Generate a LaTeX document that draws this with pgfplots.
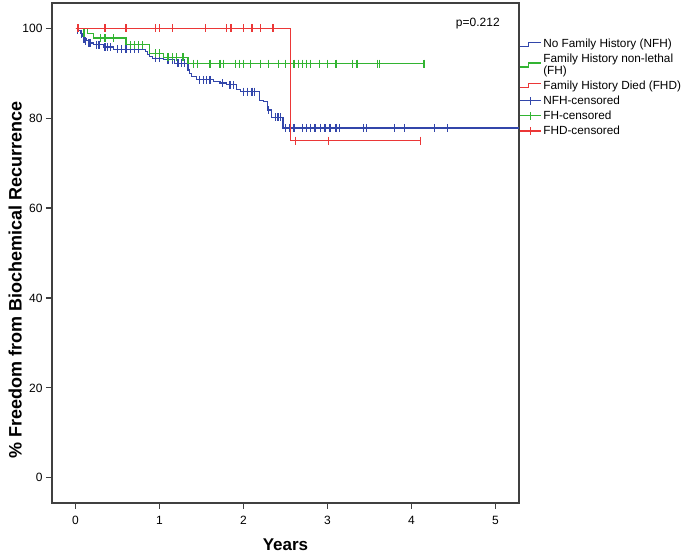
\documentclass[border=0pt]{standalone}
\usepackage{pgfplots}
\pgfplotsset{compat=1.18}
\usepackage{fontspec}
\setmainfont{Liberation Sans}
\definecolor{kmblue}{RGB}{50,70,170}
\definecolor{kmgreen}{RGB}{50,180,50}
\definecolor{kmred}{RGB}{235,55,55}
\begin{document}
\begin{tikzpicture}
\begin{axis}[
  scale only axis, width=467pt, height=500pt,
  xmin=-0.28, xmax=5.28, ymin=-5.6, ymax=105.6,
  xtick={0,1,2,3,4,5}, ytick={0,20,40,60,80,100},
  tick align=outside, major tick length=6pt,
  xtick pos=bottom, ytick pos=left,
  axis line style={line width=1.1pt, black!75},
  tick style={line width=1.1pt, black!75},
  /pgf/number format/assume math mode=true,
  ticklabel style={font=\fontsize{12}{14}\selectfont},
  xticklabel style={yshift=-4pt},
  xlabel={\textbf{Years}},
  ylabel={\textbf{\% Freedom from Biochemical Recurrence}},
  xlabel style={font=\fontsize{17}{19}\selectfont, at={(axis description cs:0.5,-0.084)}, anchor=center},
  ylabel style={font=\fontsize{18}{20}\selectfont, at={(axis description cs:-0.079,0.446)}, anchor=center},
  legend style={at={(rel axis cs:1,0.932)}, anchor=north west, draw=none, fill=none,
    font=\fontsize{11.8}{11.5}\selectfont, inner sep=0pt, row sep=1pt,
    cells={anchor=west, align=left, xshift=1pt}},
  legend cell align=left,
  clip=false,
]
% --- survival curves ---
\addplot[const plot, kmblue, line width=1.2pt,
  legend image code/.code={\draw[kmblue,line width=1.1pt] (0pt,-2pt)--(9pt,-2pt)--(9pt,2pt)--(21pt,2pt);}]
 coordinates {
 (0,100) (0.03,99.5) (0.06,98.8) (0.09,98.2) (0.11,97.7) (0.13,97.2) (0.15,96.7)
 (0.21,96.3) (0.33,95.8) (0.45,95.3) (0.83,94.8) (0.86,94.2) (0.88,93.7)
 (0.92,93.3) (1.05,93.0) (1.18,92.2) (1.34,90.7) (1.36,89.9) (1.38,89.2)
 (1.44,88.5) (1.64,88.1) (1.72,87.8) (1.80,87.4) (1.92,86.3) (1.96,85.9)
 (2.19,84.0) (2.24,83.7) (2.29,81.8) (2.33,80.2) (2.47,77.8) (5.28,77.8)};
\addlegendentry{No Family History (NFH)}
\addplot[const plot, kmgreen, line width=1.2pt,
  legend image code/.code={\draw[kmgreen,line width=1.1pt] (0pt,-2pt)--(9pt,-2pt)--(9pt,2pt)--(21pt,2pt);}]
 coordinates {
 (0,100) (0.14,98.9) (0.21,97.8) (0.6,96.3) (0.88,94.4) (1.05,93.5) (1.34,92.1) (4.15,92.1)};
\addlegendentry{Family History non-lethal\\(FH)}
\addplot[const plot, kmred, line width=1.2pt,
  legend image code/.code={\draw[kmred,line width=1.1pt] (0pt,-2pt)--(9pt,-2pt)--(9pt,2pt)--(21pt,2pt);}]
 coordinates {(0,100) (2.56,75) (4.11,75)};
\addlegendentry{Family History Died (FHD)}
% --- censored marks ---
\addplot[only marks, mark=|, mark size=4pt, kmblue, mark options={kmblue, line width=1.2pt},
  legend image code/.code={\draw[kmblue,line width=1.1pt] (0pt,0pt)--(21pt,0pt); \draw[kmblue,line width=1.1pt] (10.5pt,-4pt)--(10.5pt,4pt);}]
 coordinates {
 (0.02,99.5) (0.07,98.8) (0.1,97.7) (0.12,97.2) (0.16,96.7) (0.18,96.7) (0.25,96.3) (0.28,96.3)
 (0.35,95.8) (0.38,95.8) (0.42,95.8) (0.5,95.3) (0.55,95.3) (0.6,95.3) (0.65,95.3) (0.7,95.3) (0.75,95.3)
 (0.95,93.3) (1.0,93.3) (1.1,93.0) (1.15,93.0) (1.22,92.2) (1.26,92.2) (1.3,92.2)
 (1.48,88.5) (1.52,88.5) (1.56,88.5) (1.6,88.5) (1.75,87.8) (1.84,87.4) (1.88,87.4)
 (2.0,85.9) (2.05,85.9) (2.1,85.9) (2.13,85.9) (2.3,81.8) (2.38,80.2) (2.41,80.2) (2.44,80.2)
 (2.5,77.8) (2.55,77.8) (2.6,77.8) (2.7,77.8) (2.75,77.8) (2.8,77.8) (2.85,77.8) (2.92,77.8)
 (2.97,77.8) (3.03,77.8) (3.1,77.8) (3.14,77.8) (3.43,77.8) (3.46,77.8) (3.8,77.8) (3.92,77.8)
 (4.27,77.8) (4.43,77.8)};
\addlegendentry{NFH-censored}
\addplot[only marks, mark=|, mark size=4pt, kmgreen, mark options={kmgreen, line width=1.2pt},
  legend image code/.code={\draw[kmgreen,line width=1.1pt] (0pt,0pt)--(21pt,0pt); \draw[kmgreen,line width=1.1pt] (10.5pt,-4pt)--(10.5pt,4pt);}]
 coordinates {
 (0.1,98.9) (0.3,97.8) (0.35,97.8) (0.45,97.8) (0.65,96.3) (0.7,96.3) (0.75,96.3) (0.8,96.3)
 (0.95,94.4) (1.0,94.4) (1.1,93.5) (1.15,93.5) (1.2,93.5) (1.28,93.5)
 (1.4,92.1) (1.45,92.1) (1.6,92.1) (1.72,92.1) (1.76,92.1) (1.9,92.1) (1.95,92.1) (2.0,92.1)
 (2.08,92.1) (2.2,92.1) (2.3,92.1) (2.42,92.1) (2.5,92.1) (2.6,92.1) (2.65,92.1) (2.7,92.1)
 (2.75,92.1) (2.8,92.1) (2.9,92.1) (3.0,92.1) (3.1,92.1) (3.3,92.1) (3.35,92.1) (3.6,92.1)
 (3.62,92.1) (4.15,92.1)};
\addlegendentry{FH-censored}
\addplot[only marks, mark=|, mark size=4pt, kmred, mark options={kmred, line width=1.2pt},
  legend image code/.code={\draw[kmred,line width=1.1pt] (0pt,0pt)--(21pt,0pt); \draw[kmred,line width=1.1pt] (10.5pt,-4pt)--(10.5pt,4pt);}]
 coordinates {
 (0.03,100) (0.35,100) (0.6,100) (0.95,100) (1.0,100) (1.15,100) (1.55,100) (1.8,100)
 (1.85,100) (2.0,100) (2.1,100) (2.2,100) (2.35,100) (2.62,75) (3.01,75) (4.11,75)};
\addlegendentry{FHD-censored}
\node[font=\fontsize{12}{14}\selectfont] at (axis cs:4.79,101) {p=0.212};
\end{axis}
\pgfresetboundingbox
\path[use as bounding box] (-52pt,-53pt) rectangle (633pt,503pt);
\end{tikzpicture}
\end{document}
